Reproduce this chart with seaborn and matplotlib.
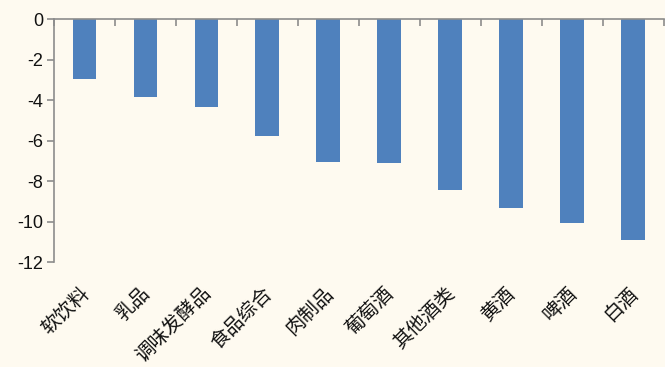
import matplotlib
matplotlib.use("Agg")
import matplotlib.pyplot as plt
import seaborn as sns
import numpy as np
import pandas as pd

categories = ["软饮料", "乳品", "调味发酵品", "食品综合", "肉制品", "葡萄酒", "其他酒类", "黄酒", "啤酒", "白酒"]
values = [-2.97, -3.85, -4.35, -5.78, -7.05, -7.12, -8.45, -9.33, -10.06, -10.91]
y_ticks = [0, -2, -4, -6, -8, -10, -12]

bg = "#FEFAF0"
bar_color = "#4F81BD"
axis_color = "#8C8C8C"

sns.set_theme(style="white")
plt.rcParams["font.family"] = ["Liberation Sans", "Noto Sans CJK SC", "DejaVu Sans"]

df = pd.DataFrame({"category": categories, "value": values})

fig = plt.figure(figsize=(6.65, 3.67), dpi=100, facecolor=bg)
ax = fig.add_axes([0.0812, 0.285, 0.9168, 0.663])
ax.set_facecolor(bg)

sns.barplot(data=df, x="category", y="value", color=bar_color, width=0.39,
            saturation=1, ax=ax, edgecolor="none")

ax.set_xlim(-0.5, len(categories) - 0.5)
ax.set_ylim(-12, 0)
ax.set_yticks(y_ticks)
ax.set_yticklabels([str(t) for t in y_ticks], fontsize=13, color="#111111")
ax.set_xlabel("")
ax.set_ylabel("")

for side in ["right", "bottom"]:
    ax.spines[side].set_visible(False)
for side in ["left", "top"]:
    ax.spines[side].set_visible(True)
    ax.spines[side].set_color(axis_color)
    ax.spines[side].set_linewidth(1.2)

# category separators along the zero line, pointing into the plot
ax.xaxis.set_ticks_position("both")
ax.set_xticks(np.arange(len(categories)))
ax.set_xticks(np.arange(len(categories) + 1) - 0.5, minor=True)
ax.tick_params(axis="x", which="major", length=0, top=False, bottom=False,
               labeltop=False, labelbottom=False)
ax.tick_params(axis="x", which="minor", top=True, bottom=False, direction="in",
               length=5, width=1.2, color=axis_color)
ax.tick_params(axis="y", which="major", left=True, direction="out", length=5,
               width=1.2, color=axis_color, pad=3)

# category names under the plot, rotated
for i, name in enumerate(categories):
    ax.text(i - 0.1, -13.0, name, rotation=45, ha="right", va="top",
            rotation_mode="anchor", fontsize=14, color="#111111",
            family=["Noto Sans CJK SC", "DejaVu Sans"], clip_on=False)

fig.savefig("out.png", dpi=100, facecolor=bg)
